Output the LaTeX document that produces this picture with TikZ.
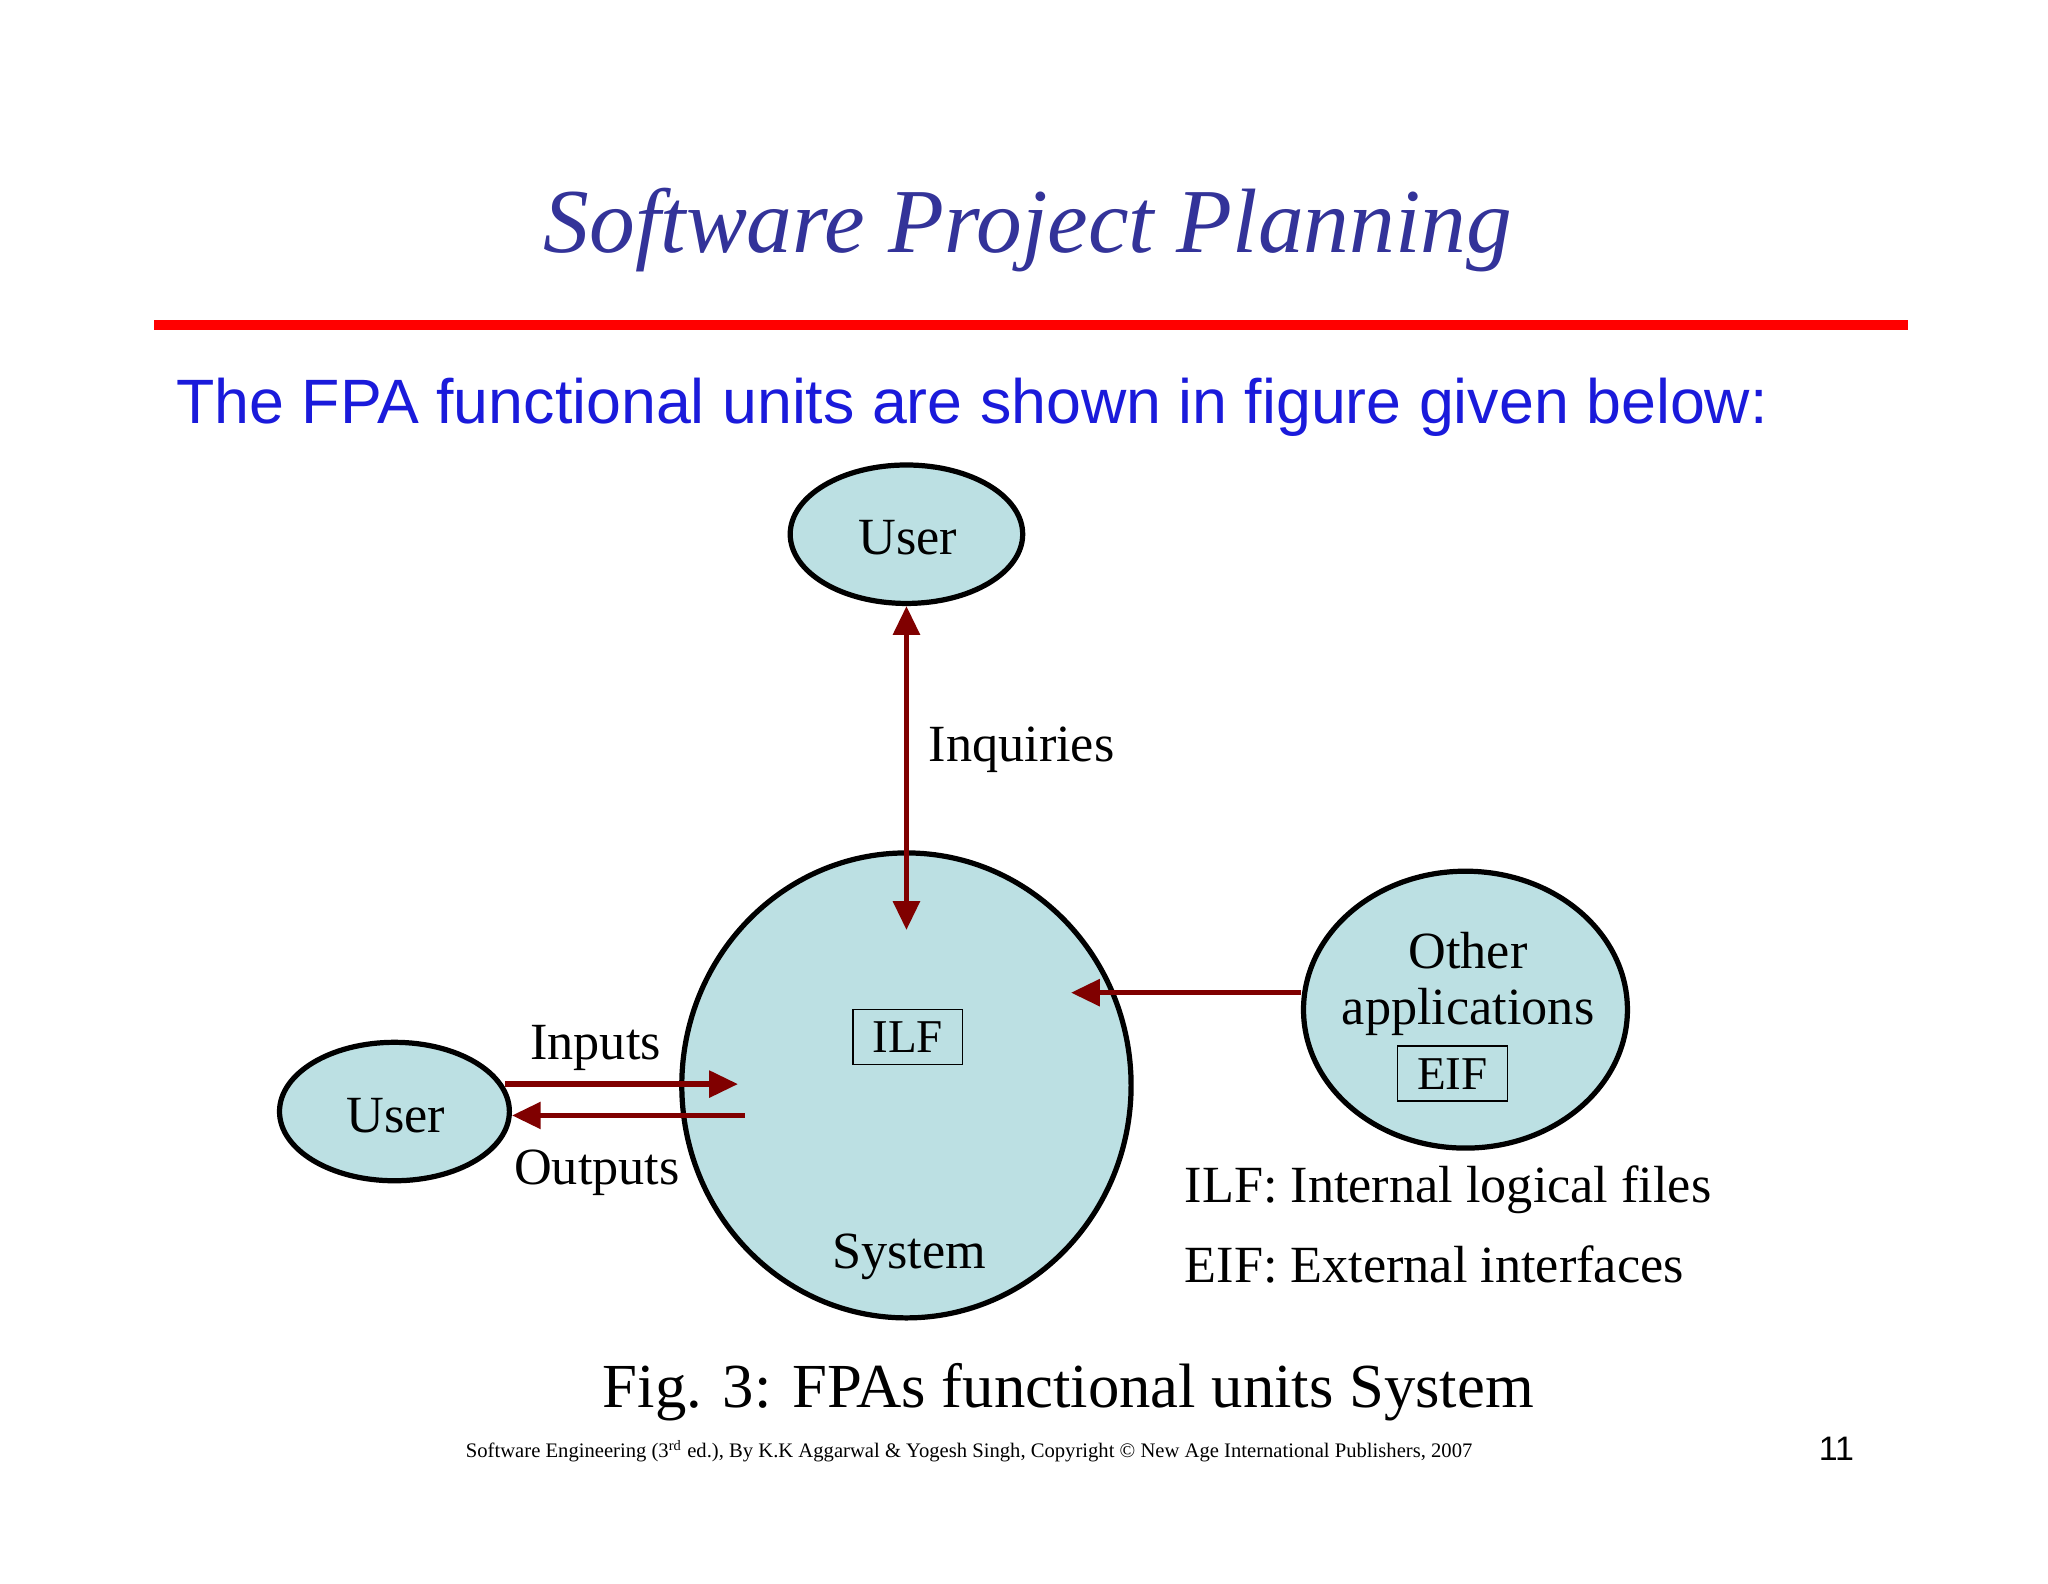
\documentclass[tikz,border=0pt]{standalone}
\usepackage{fontspec}
\setmainfont{Liberation Serif}
\setsansfont{Liberation Sans}
\usetikzlibrary{arrows.meta,shapes.geometric}
\definecolor{bubfill}{HTML}{BCE0E3}
\definecolor{arr}{HTML}{800000}
\definecolor{ttl}{HTML}{333399}
\definecolor{sub}{HTML}{1A1ADB}
\tikzset{
  bub/.style={ellipse,draw=black,line width=2pt,fill=bubfill,inner sep=0pt},
  con/.style={draw=arr,line width=2pt,-{Triangle[length=11pt,width=10pt]}},
  lbl/.style={font=\fontsize{20}{24}\selectfont},
  box/.style={draw=black,line width=0.6pt,minimum width=42pt,minimum height=21pt,inner sep=0pt,font=\fontsize{18}{20}\selectfont}
}
\begin{document}
\begin{tikzpicture}[x=0.5pt,y=-0.5pt]
\useasboundingbox[fill=white] (0,0) rectangle (1568,1212);
\node[font=\fontsize{35}{40}\selectfont\itshape,text=ttl] (title) at (787,176) {Software Project Planning};
\draw[red,line width=4pt] (118,249) -- (1461,249);
\node[anchor=west,font=\sffamily\fontsize{24}{28}\selectfont,text=sub] (sub) at (128,312) {The FPA functional units are shown in figure given below:};
\node[bub,minimum width=89pt,minimum height=53pt] (u1) at (694,409) {};
\node[lbl] at (695,412) {User};
\node[bub,minimum width=172pt,minimum height=178pt] (sys) at (694,831) {};
\node[bub,minimum width=88pt,minimum height=53pt] (u2) at (302,851) {};
\node[lbl] at (303,854) {User};
\node[bub,minimum width=124pt,minimum height=106pt] (oth) at (1122,773) {};
\node[lbl] at (1124,728) {Other};
\node[lbl] at (1124,775) {applications};
\node[box] (eif) at (1112,822) {EIF};
\node[box] (ilf) at (695,794) {ILF};
\node[lbl] (sysl) at (696,962) {System};
\coordinate (inqb) at (694,712);
\draw[con,{Triangle[length=11pt,width=10pt]}-{Triangle[length=11pt,width=10pt]}] (u1.south) -- (inqb);
\node[lbl,anchor=west] at (704,574) {Inquiries};
\coordinate (oe) at (820,760);
\draw[con] (oth.west |- oe) -- (oe);
\coordinate (ie) at (565,830);
\coordinate (os) at (570,854);
\coordinate (oe2) at (392,854);
\draw[con] (387,830) -- (ie);
\draw[con] (os) -- (oe2);
\node[lbl] at (456,802) {Inputs};
\node[lbl] at (457,898) {Outputs};
\node[lbl,anchor=west] at (900,911) {ILF: Internal logical files};
\node[lbl,anchor=west] at (900,968) {EIF: External interfaces};
\node[font=\fontsize{24}{28}\selectfont] at (818,1066) {Fig. 3: FPAs functional units System};
\node[font=\fontsize{7.9}{9}\selectfont] at (742,1111) {Software Engineering (3\textsuperscript{rd} ed.), By K.K Aggarwal \& Yogesh Singh, Copyright © New Age International Publishers, 2007};
\node[font=\sffamily\fontsize{13}{15}\selectfont] at (1406,1109) {11};
\end{tikzpicture}
\end{document}
